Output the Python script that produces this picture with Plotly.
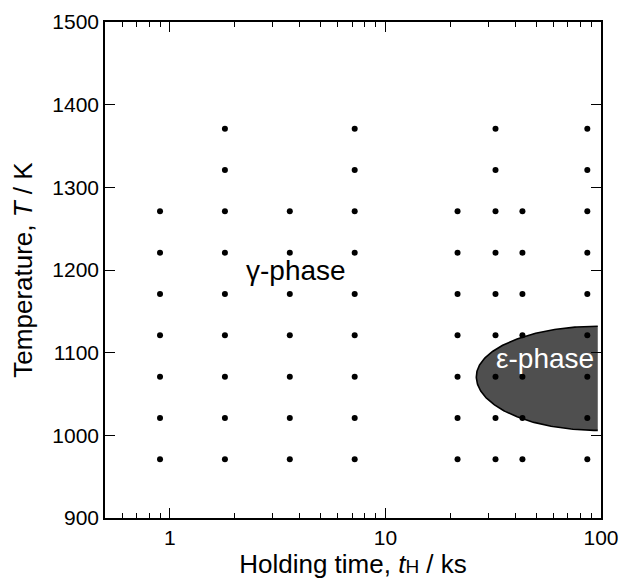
import numpy as np
import plotly.graph_objects as go

# Experimental conditions (holding time in ks, temperature in K)
hold_times = [0.9, 1.8, 3.6, 7.2, 21.6, 32.4, 43.2, 86.4]
temps_7 = [971, 1021, 1071, 1121, 1171, 1221, 1271]
temps_9 = [971, 1021, 1071, 1121, 1171, 1221, 1271, 1321, 1371]
column_temps = [temps_7, temps_9, temps_7, temps_9, temps_7, temps_9, temps_7, temps_9]

# epsilon-phase region boundary (half-ellipse in log-time / temperature)
eps_nose_time = 26.4      # ks, leftmost point
eps_right_time = 96.6     # ks, right edge
eps_T_nose = 1071         # K
eps_T_top = 1132          # K
eps_T_bottom = 1006       # K

# Labels
gamma_label = "γ-phase"
gamma_pos = (3.85, 1200)
eps_label = "ε-phase"
eps_pos = (55, 1093)

x_major = [1, 10, 100]
x_minor = [0.6, 0.7, 0.8, 0.9, 2, 3, 4, 5, 6, 7, 8, 9, 20, 30, 40, 50, 60, 70, 80, 90]

FONT = "Arial, Liberation Sans, Helvetica, sans-serif"

fig = go.Figure()

# epsilon region
lx0 = np.log10(eps_right_time)
a = lx0 - np.log10(eps_nose_time)
th = np.linspace(np.pi / 2, 3 * np.pi / 2, 200)
lx = lx0 + a * np.cos(th)
sy = np.sin(th)
ty = np.where(sy >= 0, eps_T_nose + (eps_T_top - eps_T_nose) * sy,
              eps_T_nose + (eps_T_nose - eps_T_bottom) * sy)
xs = 10 ** lx
fig.add_trace(go.Scatter(x=xs, y=ty, mode="lines", fill="toself",
                         fillcolor="#4f4f4f", line=dict(width=0),
                         hoverinfo="skip", showlegend=False))
fig.add_trace(go.Scatter(x=xs, y=ty, mode="lines",
                         line=dict(color="black", width=1.6),
                         hoverinfo="skip", showlegend=False))

# experiment points
px, py = [], []
for t, temps in zip(hold_times, column_temps):
    for T in temps:
        px.append(t)
        py.append(T)
fig.add_trace(go.Scatter(x=px, y=py, mode="markers",
                         marker=dict(color="black", size=6),
                         showlegend=False))

fig.add_annotation(x=np.log10(gamma_pos[0]), y=gamma_pos[1], text=gamma_label,
                   showarrow=False, font=dict(family=FONT, size=28, color="black"))
fig.add_annotation(x=np.log10(eps_pos[0]), y=eps_pos[1], text=eps_label,
                   showarrow=False, font=dict(family=FONT, size=28, color="white"))

fig.update_layout(
    width=633, height=579,
    margin=dict(l=105, r=32, t=22, b=61),
    plot_bgcolor="white", paper_bgcolor="white",
    font=dict(family=FONT, size=21, color="black"),
    xaxis=dict(
        type="log", range=[np.log10(0.5), 2], automargin=False,
        tickmode="array", tickvals=x_major, ticktext=[str(v) for v in x_major],
        ticks="inside", ticklen=10, tickwidth=1.3, tickcolor="black",
        showline=True, linecolor="black", linewidth=1.6, mirror="ticks",
        showgrid=False, zeroline=False,
        minor=dict(tickmode="array", tickvals=x_minor, ticks="inside",
                   ticklen=5, tickwidth=1.3, tickcolor="black", showgrid=False),
        title=dict(text="Holding time, <i>t</i><span style=\"font-size:19px\">H</span> / ks",
                   font=dict(size=26), standoff=8),
    ),
    yaxis=dict(
        range=[900, 1500], dtick=100, tick0=900, automargin=False,
        ticks="inside", ticklen=10, tickwidth=1.3, tickcolor="black",
        showline=True, linecolor="black", linewidth=1.6, mirror="ticks",
        showgrid=False, zeroline=False,
        title=dict(text="Temperature, <i>T</i> / K", font=dict(size=26), standoff=12),
    ),
)

fig.write_html("out.html")
